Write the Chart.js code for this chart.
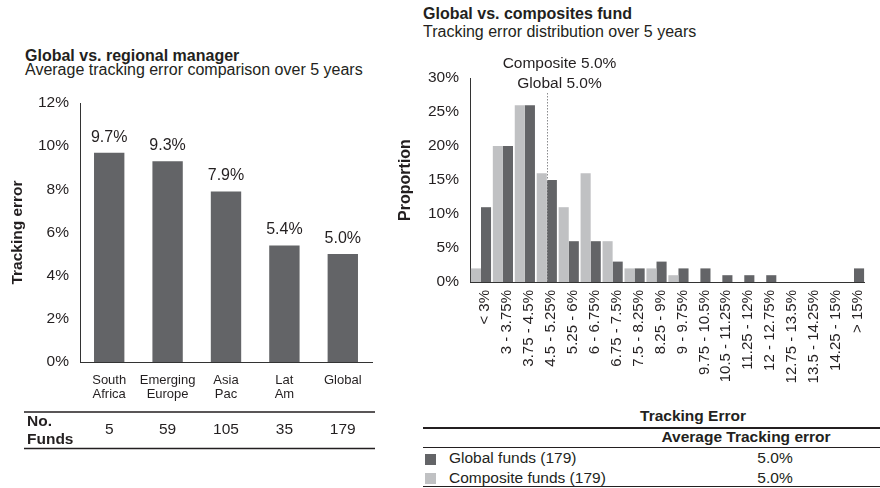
<!DOCTYPE html>
<html>
<head>
<meta charset="utf-8">
<script src="https://cdn.jsdelivr.net/npm/chart.js@4.4.1/dist/chart.umd.min.js"></script>
<style>
  html, body { margin: 0; padding: 0; background: #fff; }
  body { width: 880px; height: 488px; position: relative; overflow: hidden;
         font-family: "Liberation Sans", Arial, Helvetica, sans-serif; color: #231f20; }
  .t { position: absolute; white-space: nowrap; line-height: 1; }
  .b { font-weight: bold; }
  canvas { position: absolute; }
  #left { left: 0; top: 0; }
  #right { left: 395px; top: 0; }
  .hr { position: absolute; background: #231f20; height: 1px; }
  .sw { position: absolute; width: 11px; height: 11px; }
</style>
</head>
<body>
<div class="t b" style="left:25px; top:47.5px; font-size:16px;">Global vs. regional manager</div>
<div class="t" style="left:25px; top:62px; font-size:16px;">Average tracking error comparison over 5 years</div>

<div class="t b" style="left:423px; top:6px; font-size:16px;">Global vs. composites fund</div>
<div class="t" style="left:423px; top:24px; font-size:16px;">Tracking error distribution over 5 years</div>

<canvas id="left" width="380" height="460"></canvas>
<canvas id="right" width="485" height="400"></canvas>

<!-- summary table, right side -->
<div class="t b" style="left:423px; width:540px; text-align:center; top:408px; font-size:15.5px;">Tracking Error</div>
<div class="hr" style="left:423px; width:457px; top:427px; height:1.5px;"></div>
<div class="t b" style="left:613px; width:266px; text-align:center; top:429px; font-size:15.5px;">Average Tracking error</div>
<div class="hr" style="left:423px; width:457px; top:447px;"></div>
<div class="sw" id="sw1" style="left:425px; top:454px;"></div>
<div class="t" id="row1" style="left:449px; top:449.5px; font-size:15.5px;"></div>
<div class="t" id="val1" style="left:735px; width:80px; text-align:center; top:449.5px; font-size:15.5px;"></div>
<div class="sw" id="sw2" style="left:425px; top:473px;"></div>
<div class="t" id="row2" style="left:449px; top:469.5px; font-size:15.5px;"></div>
<div class="t" id="val2" style="left:735px; width:80px; text-align:center; top:469.5px; font-size:15.5px;"></div>
<div class="hr" style="left:423px; width:457px; top:486px;"></div>

<script>
// ---- left chart data ----
var regions = [["South", "Africa"], ["Emerging", "Europe"], ["Asia", "Pac"], ["Lat", "Am"], ["Global"]];
var regionTE = [9.7, 9.3, 7.9, 5.4, 5.0];
var regionFunds = [5, 59, 105, 35, 179];
var leftTicks = [0, 2, 4, 6, 8, 10, 12];

// ---- right chart data ----
var bins = ["< 3%", "3 - 3.75%", "3.75 - 4.5%", "4.5 - 5.25%", "5.25 - 6%", "6 - 6.75%",
            "6.75 - 7.5%", "7.5 - 8.25%", "8.25 - 9%", "9 - 9.75%", "9.75 - 10.5%",
            "10.5 - 11.25%", "11.25 - 12%", "12 - 12.75%", "12.75 - 13.5%",
            "13.5 - 14.25%", "14.25 - 15%", "> 15%"];
var compositeShare = [2, 20, 26, 16, 11, 16, 6, 2, 2, 1, 0, 0, 0, 0, 0, 0, 0, 0];
var globalShare = [11, 20, 26, 15, 6, 6, 3, 2, 3, 2, 2, 1, 1, 1, 0, 0, 0, 2];
var avgBin = "4.5 - 5.25%";
var avgGlobal = 5.0;
var avgComposite = 5.0;
var globalCount = 179;
var compositeCount = 179;

var dark = "#636467";
var light = "#c0c1c3";
var ink = "#231f20";
var fam = '"Liberation Sans", Arial, Helvetica, sans-serif';

Chart.defaults.font.family = fam;
Chart.defaults.color = ink;

document.getElementById("sw1").style.background = dark;
document.getElementById("sw2").style.background = light;
document.getElementById("row1").textContent = "Global funds (" + globalCount + ")";
document.getElementById("row2").textContent = "Composite funds (" + compositeCount + ")";
document.getElementById("val1").textContent = avgGlobal.toFixed(1) + "%";
document.getElementById("val2").textContent = avgComposite.toFixed(1) + "%";

// value labels above bars + No. Funds row
var leftExtras = {
	id: "leftExtras",
	afterDraw: function(chart) {
		var ctx = chart.ctx;
		var meta = chart.getDatasetMeta(0);
		var xs = chart.scales.x;
		var area = chart.chartArea;
		ctx.save();
		ctx.fillStyle = ink;
		ctx.textAlign = "center";
		ctx.textBaseline = "alphabetic";
		ctx.font = "16px " + fam;
		meta.data.forEach(function(bar, i) {
			ctx.fillText(regionTE[i].toFixed(1) + "%", bar.x, bar.y - 11);
		});
		// table
		var top = area.bottom + 50;
		ctx.strokeStyle = ink;
		ctx.lineWidth = 1.5;
		ctx.beginPath();
		ctx.moveTo(24, top); ctx.lineTo(375, top);
		ctx.moveTo(24, top + 36.5); ctx.lineTo(375, top + 36.5);
		ctx.stroke();
		ctx.font = "15.5px " + fam;
		regionFunds.forEach(function(n, i) {
			ctx.fillText(String(n), xs.getPixelForValue(i), top + 22);
		});
		ctx.textAlign = "left";
		ctx.font = "bold 15.5px " + fam;
		ctx.fillText("No.", 27, top + 14);
		ctx.fillText("Funds", 27, top + 31.5);
		ctx.restore();
	}
};

new Chart(document.getElementById("left"), {
	type: "bar",
	data: {
		labels: regions,
		datasets: [{
			data: regionTE,
			backgroundColor: dark,
			barPercentage: 0.52,
			categoryPercentage: 1.0
		}]
	},
	options: {
		responsive: false,
		animation: false,
		layout: { padding: { top: 103, right: 8, left: 0, bottom: 0 } },
		plugins: { legend: { display: false }, tooltip: { enabled: false } },
		scales: {
			x: {
				grid: { display: false, drawTicks: false },
				border: { display: true, color: "#333", width: 1 },
				ticks: { font: { size: 13, lineHeight: 1.1 }, padding: 11.3, color: ink,
					maxRotation: 0, autoSkip: false },
				afterFit: function(s) { s.height = 98; }
			},
			y: {
				min: 0, max: 12,
				afterBuildTicks: function(s) { s.ticks = leftTicks.map(function(v) { return { value: v }; }); },
				grid: { display: false, drawTicks: false },
				border: { display: true, color: "#333", width: 1 },
				ticks: { font: { size: 15.5 }, padding: 11, color: ink,
					callback: function(v) { return v + "%"; } },
				title: { display: true, text: "Tracking error", font: { size: 15.5, weight: "bold", lineHeight: 1 },
					padding: { top: 10, bottom: 0 }, color: ink },
				afterFit: function(s) { s.width = 80; }
			}
		}
	},
	plugins: [leftExtras]
});

// dotted average marker with annotation
var avgMarker = {
	id: "avgMarker",
	afterDatasetsDraw: function(chart) {
		var ctx = chart.ctx;
		var xs = chart.scales.x;
		var area = chart.chartArea;
		var x = Math.round(xs.getPixelForValue(bins.indexOf(avgBin))) + 0.5;
		ctx.save();
		ctx.strokeStyle = "#8a8b8d";
		ctx.lineWidth = 1;
		ctx.setLineDash([1.5, 1.5]);
		ctx.beginPath();
		ctx.moveTo(x, area.top + 15);
		ctx.lineTo(x, area.bottom);
		ctx.stroke();
		ctx.setLineDash([]);
		ctx.fillStyle = ink;
		ctx.textAlign = "center";
		ctx.textBaseline = "alphabetic";
		ctx.font = "15.5px " + fam;
		ctx.fillText("Composite " + avgComposite.toFixed(1) + "%", x + 12, area.top - 10.5);
		ctx.fillText("Global " + avgGlobal.toFixed(1) + "%", x + 12, area.top + 9.5);
		ctx.restore();
	}
};

new Chart(document.getElementById("right"), {
	type: "bar",
	data: {
		labels: bins,
		datasets: [
			{ label: "Composite funds", data: compositeShare, backgroundColor: light,
			  barPercentage: 1.0, categoryPercentage: 0.92 },
			{ label: "Global funds", data: globalShare, backgroundColor: dark,
			  barPercentage: 1.0, categoryPercentage: 0.92 }
		]
	},
	options: {
		responsive: false,
		animation: false,
		layout: { padding: { top: 78, right: 0, left: 0, bottom: 0 } },
		plugins: { legend: { display: false }, tooltip: { enabled: false } },
		scales: {
			x: {
				grid: { display: false, drawTicks: false },
				border: { display: true, color: "#333", width: 1 },
				ticks: { font: { size: 15 }, padding: 8, color: ink, minRotation: 90, maxRotation: 90,
					autoSkip: false, labelOffset: 4 },
				afterFit: function(s) { s.height = 118; }
			},
			y: {
				min: 0, max: 30,
				grid: { display: false, drawTicks: false },
				border: { display: true, color: "#333", width: 1 },
				ticks: { stepSize: 5, font: { size: 15.5 }, padding: 11, color: ink,
					callback: function(v) { return v + "%"; } },
				title: { display: true, text: "Proportion", font: { size: 16, weight: "bold", lineHeight: 1 },
					padding: { top: 3, bottom: 0 }, color: ink },
				afterFit: function(s) { s.width = 75; }
			}
		}
	},
	plugins: [avgMarker]
});
</script>
</body>
</html>
